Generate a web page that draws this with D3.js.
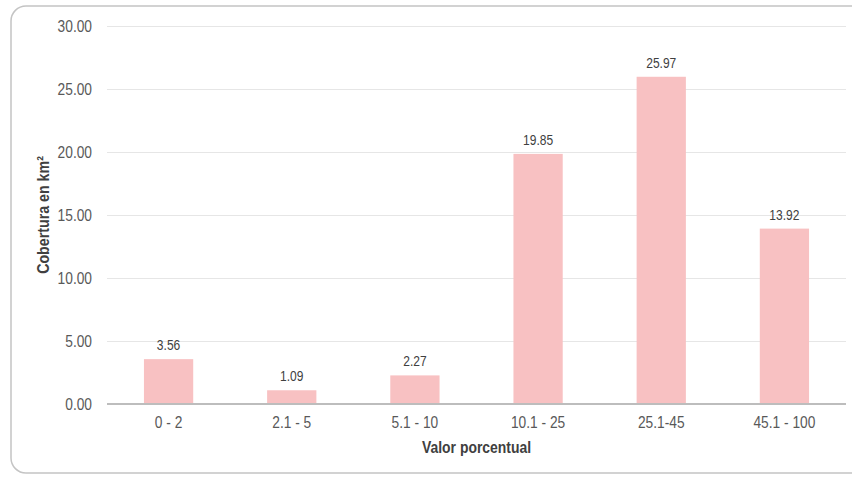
<!DOCTYPE html>
<html>
<head>
<meta charset="utf-8">
<script src="https://cdn.jsdelivr.net/npm/d3@7"></script>
<style>
  html, body { margin: 0; padding: 0; background: #ffffff; }
  svg { display: block; }
  text { font-family: "Liberation Sans Narrow", "Arial Narrow", "Liberation Sans", sans-serif; }
</style>
</head>
<body>
<svg id="chart" width="852" height="477"></svg>
<script>
// Cobertura por rango de valor porcentual
const categories = ["0 - 2", "2.1 - 5", "5.1 - 10", "10.1 - 25", "25.1-45", "45.1 - 100"];
const coverage = [3.56, 1.09, 2.27, 19.85, 25.97, 13.92];
const yTicks = [0, 5, 10, 15, 20, 25, 30];

const svg = d3.select("#chart");
const squeeze = 0.86; // horizontal compression for a condensed look

// card frame
svg.append("rect")
  .attr("x", 11).attr("y", 6)
  .attr("width", 900).attr("height", 467)
  .attr("rx", 15).attr("ry", 15)
  .attr("fill", "#ffffff")
  .attr("stroke", "#c4c4c4")
  .attr("stroke-width", 1.5);

const plot = { left: 107, right: 846, top: 26, bottom: 404 };

const x = d3.scaleBand()
  .domain(categories)
  .range([plot.left, plot.right])
  .paddingInner(0.6)
  .paddingOuter(0.3);

const y = d3.scaleLinear()
  .domain([0, 30])
  .range([plot.bottom, plot.top]);

// gridlines + y labels
const yAxis = d3.axisLeft(y)
  .tickValues(yTicks)
  .tickSize(-(plot.right - plot.left))
  .tickPadding(15)
  .tickFormat(d3.format(".2f"));

const gy = svg.append("g")
  .attr("transform", `translate(${plot.left},0)`)
  .call(yAxis);
gy.select(".domain").remove();
gy.selectAll(".tick line").attr("stroke", "#e6e6e6").attr("stroke-width", 1);
gy.selectAll(".tick text")
  .attr("fill", "#595959")
  .attr("font-size", 16)
  .attr("font-family", null)
  .attr("x", -15 / squeeze)
  .attr("transform", `scale(${squeeze},1)`);

// bars
svg.append("g").selectAll("rect")
  .data(categories)
  .join("rect")
  .attr("x", d => x(d))
  .attr("width", x.bandwidth())
  .attr("y", (d, i) => y(coverage[i]))
  .attr("height", (d, i) => y(0) - y(coverage[i]))
  .attr("fill", "#f8c1c2");

// value labels
svg.append("g").selectAll("text")
  .data(categories)
  .join("text")
  .attr("transform", (d, i) =>
    `translate(${x(d) + x.bandwidth() / 2},${y(coverage[i]) - 9}) scale(${squeeze},1)`)
  .attr("text-anchor", "middle")
  .attr("fill", "#404040")
  .attr("font-size", 14)
  .text((d, i) => d3.format(".2f")(coverage[i]));

// x axis
const xAxis = d3.axisBottom(x).tickSize(0).tickPadding(13);
const gx = svg.append("g")
  .attr("transform", `translate(0,${plot.bottom})`)
  .call(xAxis);
gx.select(".domain").attr("stroke", "#bdbdbd").attr("stroke-width", 2)
  .attr("d", `M${plot.left},0H${plot.right}`);
gx.selectAll(".tick text")
  .attr("fill", "#595959")
  .attr("font-size", 16)
  .attr("font-family", null)
  .attr("transform", `scale(${squeeze},1)`);

// axis titles
svg.append("text")
  .attr("transform", `translate(${(plot.left + plot.right) / 2},453) scale(0.87,1)`)
  .attr("text-anchor", "middle")
  .attr("font-size", 16)
  .attr("font-weight", "bold")
  .attr("fill", "#404040")
  .text("Valor porcentual");

svg.append("text")
  .attr("transform", `translate(49,${(plot.top + plot.bottom) / 2}) rotate(-90) scale(0.89,1)`)
  .attr("text-anchor", "middle")
  .attr("font-size", 16)
  .attr("font-weight", "bold")
  .attr("fill", "#404040")
  .text("Cobertura en km²");
</script>
</body>
</html>
